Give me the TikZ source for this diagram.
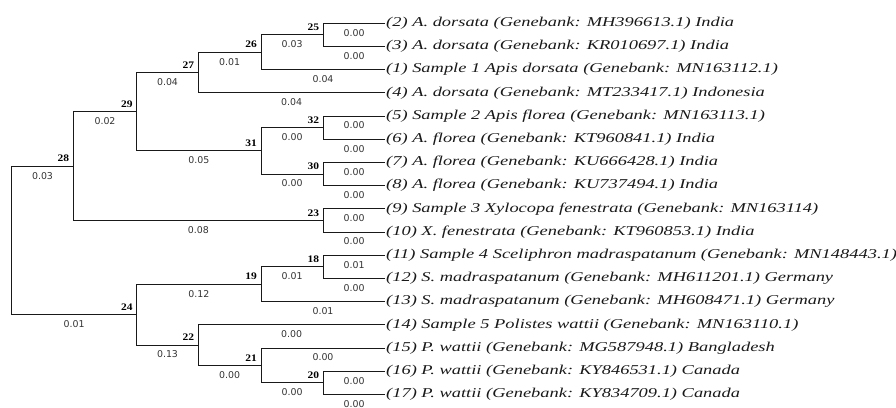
\documentclass[tikz,border=0pt]{standalone}
\usepackage{fontspec}
\setmainfont{Liberation Serif}
\newfontfamily\leaffont{Liberation Serif}[FakeStretch=1.365]
\newfontfamily\numfont{DejaVu Sans}
\newfontfamily\idfont{Liberation Serif}[FakeStretch=1.15]
\tikzset{
  tree/.style={line width=0.9pt, draw=black!90},
  leaf/.style={anchor=west, inner sep=1pt, font=\leaffont\itshape\fontsize{13.5}{15}\selectfont, text=black!90},
  blen/.style={anchor=north, inner sep=0pt, yshift=-5.5pt, font=\numfont\fontsize{9.4}{10}\selectfont, text=black!80},
  nid/.style={anchor=south east, inner sep=0pt, xshift=-4pt, yshift=4pt, font=\idfont\bfseries\fontsize{10}{11}\selectfont, text=black}
}
\begin{document}
\begin{tikzpicture}[x=1pt,y=-1pt]
\useasboundingbox (0,0) rectangle (896,407);
% leaf tips
\coordinate (t1) at (385,23.3);
\coordinate (t2) at (385,46.49);
\coordinate (t3) at (385,69.68);
\coordinate (t4) at (385,92.87);
\coordinate (t5) at (385,116.06);
\coordinate (t6) at (385,139.25);
\coordinate (t7) at (385,162.44);
\coordinate (t8) at (385,185.63);
\coordinate (t9) at (385,208.82);
\coordinate (t10) at (385,232.01);
\coordinate (t11) at (385,255.2);
\coordinate (t12) at (385,278.39);
\coordinate (t13) at (385,301.58);
\coordinate (t14) at (385,324.77);
\coordinate (t15) at (385,347.96);
\coordinate (t16) at (385,371.15);
\coordinate (t17) at (385,394.34);
% internal nodes
\coordinate (n25) at (323.3,34.9);
\coordinate (n26) at (261,52.29);
\coordinate (n27) at (198.3,72.58);
\coordinate (n32) at (323.3,127.66);
\coordinate (n30) at (323.3,174.04);
\coordinate (n31) at (261,150.85);
\coordinate (n29) at (136.7,111.72);
\coordinate (n23) at (323.3,220.42);
\coordinate (n28) at (73.3,166.07);
\coordinate (n18) at (323.3,266.8);
\coordinate (n19) at (261,284.19);
\coordinate (n20) at (323.3,382.75);
\coordinate (n21) at (261,365.36);
\coordinate (n22) at (198.3,345.06);
\coordinate (n24) at (136.7,314.63);
\coordinate (root) at (11.7,240.35);
% leaf labels
\node[leaf] (l1) at (t1) {(2) A. dorsata (Genebank: MH396613.1) India};
\node[leaf] (l2) at (t2) {(3) A. dorsata (Genebank: KR010697.1) India};
\node[leaf] (l3) at (t3) {(1) Sample 1 Apis dorsata (Genebank: MN163112.1)};
\node[leaf] (l4) at (t4) {(4) A. dorsata (Genebank: MT233417.1) Indonesia};
\node[leaf] (l5) at (t5) {(5) Sample 2 Apis florea (Genebank: MN163113.1)};
\node[leaf] (l6) at (t6) {(6) A. florea (Genebank: KT960841.1) India};
\node[leaf] (l7) at (t7) {(7) A. florea (Genebank: KU666428.1) India};
\node[leaf] (l8) at (t8) {(8) A. florea (Genebank: KU737494.1) India};
\node[leaf] (l9) at (t9) {(9) Sample 3 Xylocopa fenestrata (Genebank: MN163114)};
\node[leaf] (l10) at (t10) {(10) X. fenestrata (Genebank: KT960853.1) India};
\node[leaf] (l11) at (t11) {(11) Sample 4 Sceliphron madraspatanum (Genebank: MN148443.1)};
\node[leaf] (l12) at (t12) {(12) S. madraspatanum (Genebank: MH611201.1) Germany};
\node[leaf] (l13) at (t13) {(13) S. madraspatanum (Genebank: MH608471.1) Germany};
\node[leaf] (l14) at (t14) {(14) Sample 5 Polistes wattii (Genebank: MN163110.1)};
\node[leaf] (l15) at (t15) {(15) P. wattii (Genebank: MG587948.1) Bangladesh};
\node[leaf] (l16) at (t16) {(16) P. wattii (Genebank: KY846531.1) Canada};
\node[leaf] (l17) at (t17) {(17) P. wattii (Genebank: KY834709.1) Canada};
% node ids
\foreach \n in {25,26,27,28,29,31,32,30,23,24,19,18,22,21,20}
  \node[nid] (id\n) at (n\n) {\n};
% branches
\draw[tree] (root) |- node[blen,pos=0.75]{0.03} (n28);
\draw[tree] (root) |- node[blen,pos=0.75]{0.01} (n24);
\draw[tree] (n28) |- node[blen,pos=0.75]{0.02} (n29);
\draw[tree] (n28) |- node[blen,pos=0.75]{0.08} (n23);
\draw[tree] (n29) |- node[blen,pos=0.75]{0.04} (n27);
\draw[tree] (n29) |- node[blen,pos=0.75]{0.05} (n31);
\draw[tree] (n27) |- node[blen,pos=0.75]{0.01} (n26);
\draw[tree] (n27) |- node[blen,pos=0.75]{0.04} (t4);
\draw[tree] (n26) |- node[blen,pos=0.75]{0.03} (n25);
\draw[tree] (n26) |- node[blen,pos=0.75]{0.04} (t3);
\draw[tree] (n25) |- node[blen,pos=0.75]{0.00} (t1);
\draw[tree] (n25) |- node[blen,pos=0.75]{0.00} (t2);
\draw[tree] (n31) |- node[blen,pos=0.75]{0.00} (n32);
\draw[tree] (n31) |- node[blen,pos=0.75]{0.00} (n30);
\draw[tree] (n32) |- node[blen,pos=0.75]{0.00} (t5);
\draw[tree] (n32) |- node[blen,pos=0.75]{0.00} (t6);
\draw[tree] (n30) |- node[blen,pos=0.75]{0.00} (t7);
\draw[tree] (n30) |- node[blen,pos=0.75]{0.00} (t8);
\draw[tree] (n23) |- node[blen,pos=0.75]{0.00} (t9);
\draw[tree] (n23) |- node[blen,pos=0.75]{0.00} (t10);
\draw[tree] (n24) |- node[blen,pos=0.75]{0.12} (n19);
\draw[tree] (n24) |- node[blen,pos=0.75]{0.13} (n22);
\draw[tree] (n19) |- node[blen,pos=0.75]{0.01} (n18);
\draw[tree] (n19) |- node[blen,pos=0.75]{0.01} (t13);
\draw[tree] (n18) |- node[blen,pos=0.75]{0.01} (t11);
\draw[tree] (n18) |- node[blen,pos=0.75]{0.00} (t12);
\draw[tree] (n22) |- node[blen,pos=0.75]{0.00} (t14);
\draw[tree] (n22) |- node[blen,pos=0.75]{0.00} (n21);
\draw[tree] (n21) |- node[blen,pos=0.75]{0.00} (t15);
\draw[tree] (n21) |- node[blen,pos=0.75]{0.00} (n20);
\draw[tree] (n20) |- node[blen,pos=0.75]{0.00} (t16);
\draw[tree] (n20) |- node[blen,pos=0.75]{0.00} (t17);
\end{tikzpicture}
\end{document}
